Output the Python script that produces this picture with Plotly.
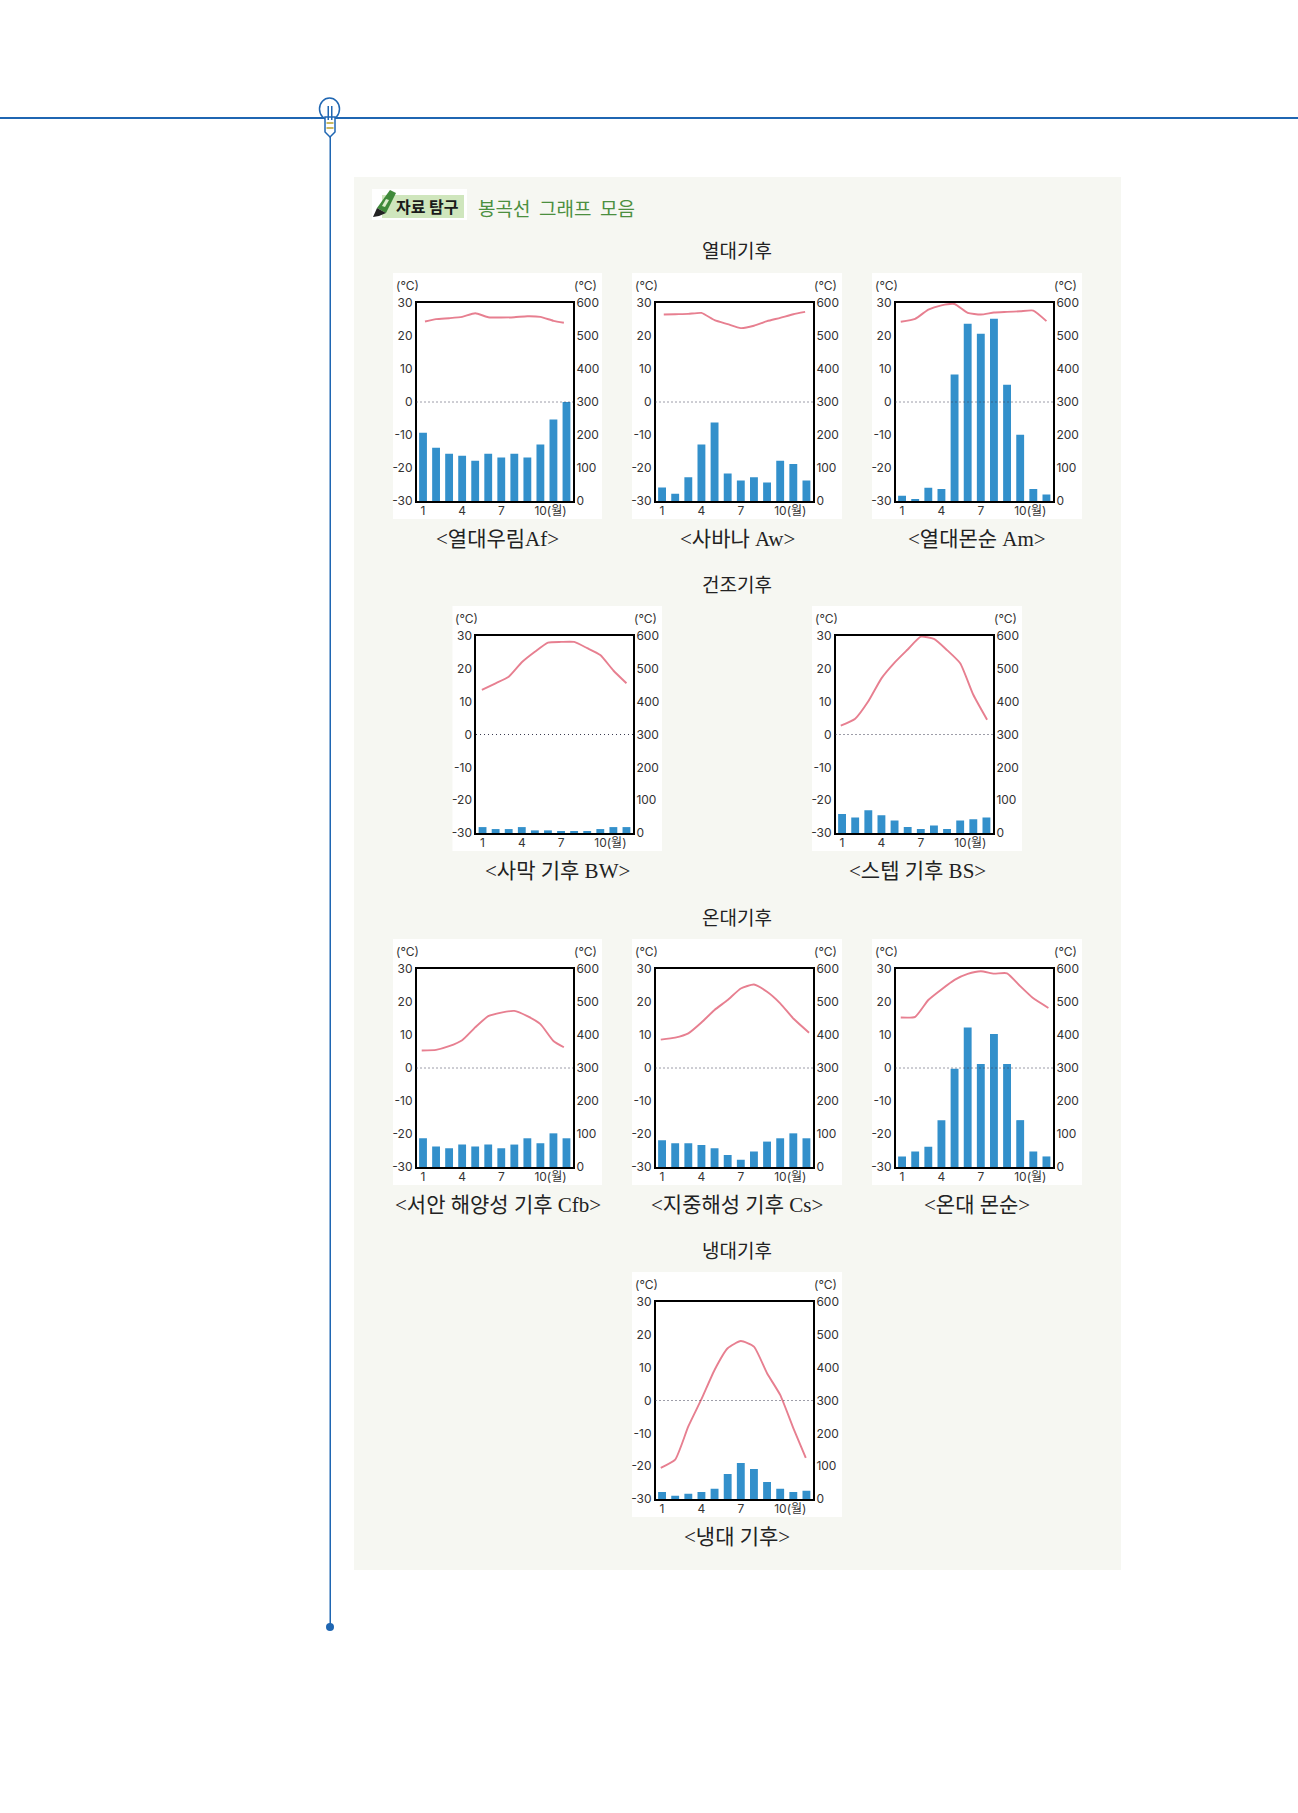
import plotly.graph_objects as go

W, H = 1298, 1813
months = list(range(1, 13))
temp_ticks = [-30, -20, -10, 0, 10, 20, 30]
temp_labels = ["-30", "-20", "-10", "0", "10", "20", "30"]
rain_ticks = [0, 100, 200, 300, 400, 500, 600]
rain_labels = ["0", "100", "200", "300", "400", "500", "600"]
month_ticks = [1, 4, 7, 10]
month_labels = ["1", "4", "7", "\u00a0\u00a0\u00a0\u00a0\u00a0\u00a010(월)"]

af_temp = [24.4, 25.1, 25.4, 25.8, 26.9, 25.7, 25.6, 25.7, 26.0, 25.8, 24.6, 24.0]
af_rain = [207, 161, 143, 137, 122, 143, 132, 143, 132, 171, 247, 300]
aw_temp = [26.5, 26.6, 26.7, 27.0, 24.8, 23.6, 22.4, 23.1, 24.5, 25.5, 26.6, 27.3]
aw_rain = [41, 22, 72, 171, 238, 83, 62, 72, 56, 122, 112, 62]
am_temp = [24.3, 25.2, 28.0, 29.3, 29.7, 27.0, 26.5, 27.1, 27.3, 27.5, 27.7, 24.5]
am_rain = [16, 6, 40, 36, 383, 537, 507, 552, 352, 201, 36, 20]
bw_temp = [13.6, 15.6, 17.6, 22.0, 25.2, 28.0, 28.2, 28.2, 26.3, 24.2, 19.5, 15.6]
bw_rain = [18, 12, 12, 18, 8, 8, 5, 5, 5, 12, 18, 18]
bs_temp = [2.7, 4.8, 10.1, 17.1, 21.9, 25.9, 29.8, 29.1, 25.7, 21.7, 12.1, 4.5]
bs_rain = [58, 47, 69, 54, 38, 18, 12, 23, 12, 38, 42, 47]
cfb_temp = [5.3, 5.5, 6.6, 8.4, 12.3, 15.7, 16.8, 17.3, 15.7, 13.3, 8.2, 6.3]
cfb_rain = [87, 62, 57, 68, 62, 68, 57, 68, 87, 72, 102, 87]
cs_temp = [8.6, 9.2, 10.5, 13.8, 17.6, 20.6, 24.1, 25.3, 23.1, 19.6, 15.0, 10.7]
cs_rain = [81, 72, 72, 67, 57, 36, 22, 47, 77, 87, 102, 87]
cw_temp = [15.3, 15.5, 20.6, 23.8, 26.7, 28.5, 29.3, 28.6, 28.7, 24.8, 21.1, 18.2]
cw_rain = [32, 47, 61, 142, 298, 423, 312, 403, 312, 142, 47, 32]
d_temp = [-20.5, -18.0, -7.9, 0.4, 9.3, 15.9, 18.1, 16.4, 8.3, 1.7, -8.4, -17.5]
d_rain = [21, 10, 16, 21, 31, 76, 110, 91, 52, 31, 21, 25]

# where each temperature curve begins and ends along the month axis
line_start = [1.15, 1.13, 0.9, 0.95, 0.9, 0.9, 0.9, 0.9, 0.9]
line_end = [11.8, 11.9, 12.0, 12.0, 12.05, 11.8, 12.2, 12.15, 11.95]

headings = ["열대기후", "건조기후", "온대기후", "냉대기후"]
captions = ["&lt;열대우림Af&gt;", "&lt;사바나 Aw&gt;", "&lt;열대몬순 Am&gt;", "&lt;사막 기후 BW&gt;", "&lt;스텝 기후 BS&gt;",
            "&lt;서안 해양성 기후 Cfb&gt;", "&lt;지중해성 기후 Cs&gt;", "&lt;온대 몬순&gt;", "&lt;냉대 기후&gt;"]
temps = [af_temp, aw_temp, am_temp, bw_temp, bs_temp, cfb_temp, cs_temp, cw_temp, d_temp]
rains = [af_rain, aw_rain, am_rain, bw_rain, bs_rain, cfb_rain, cs_rain, cw_rain, d_rain]

# frame boxes: left, right, top, bottom in pixels
frames = [(416.5, 573, 303, 501), (655.5, 813, 303, 501), (895.5, 1053, 303, 501),
          (476, 633, 636, 833), (835.5, 993, 636, 833),
          (416.5, 573, 969, 1167), (655.5, 813, 969, 1167), (895.5, 1053, 969, 1167),
          (655.5, 813, 1302, 1499)]
heading_y = [252, 586, 918, 1251]

px = lambda x: x / W
py = lambda y: 1 - y / H
SANS = "Inter, Noto Sans CJK KR"
SERIF = "Liberation Serif, Noto Sans CJK KR"
BLUE = "#1f66b2"
TXT = "#333333"

fig = go.Figure()
shapes, annos = [], []


def rect(x0, y0, x1, y1, fill, line=None, lw=0, kind="rect"):
    shapes.append(dict(type=kind, xref="paper", yref="paper", x0=px(x0), x1=px(x1), y0=py(y0), y1=py(y1),
                       fillcolor=fill, line=dict(color=line or fill, width=lw), layer="below"))


def text(x, y, s, size, color="#222222", family=SERIF, anchor="center"):
    annos.append(dict(xref="paper", yref="paper", x=px(x), y=py(y), text=s, showarrow=False, xanchor=anchor,
                      yanchor="middle", font=dict(size=size, color=color, family=family)))


def poly(pts, fill, line=None, lw=0):
    d = "M " + " L ".join(f"{px(a):.5f},{py(b):.5f}" for a, b in pts) + " Z"
    shapes.append(dict(type="path", xref="paper", yref="paper", path=d, fillcolor=fill,
                       line=dict(color=line or fill, width=lw), layer="below"))


def sid(prefix, n):
    return prefix if n == 1 else f"{prefix}{n}"


# page furniture
rect(354, 177, 1121, 1570, "#f6f7f2")
rect(0, 117, 1298, 119, BLUE)
rect(329.5, 130, 331, 1626, BLUE)
rect(326, 1623, 334, 1631, BLUE, kind="circle")
rect(319.5, 98, 339.5, 120, "#ffffff", BLUE, 1.5, kind="circle")
poly([(325, 117), (335, 117), (335, 132), (330, 137), (325, 132)], "#ffffff", BLUE, 1.5)
rect(326.5, 122, 333.5, 124, "#c9b860")
rect(326.5, 127, 333.5, 129, "#c9b860")
rect(327.5, 106, 329, 120, BLUE)
rect(331, 106, 332.5, 120, BLUE)

# badge
rect(372, 189, 467, 220, "#ffffff")
rect(382, 195, 464, 218, "#cfe6bd")
poly([(390, 190), (396, 193), (386, 213), (377, 208)], "#3f8a3a")
poly([(377, 208), (386, 213), (379, 216), (373, 217)], "#222222")
poly([(386, 199), (389, 200), (385, 207), (382, 206)], "#dbeccb")
text(427, 206, "<b>자료 탐구</b>", 16, "#1a1a1a", "Noto Sans CJK KR")
text(476, 207, "봉곡선\u00a0\u00a0그래프\u00a0\u00a0모음", 19, "#4b8f3f", "Noto Sans CJK KR", "left")

for s, y in zip(headings, heading_y):
    text(737, y, s, 19)

for i, ((l, r, t, b), temp, rain, cap) in enumerate(zip(frames, temps, rains, captions)):
    cx = (l + r) / 2
    xa, ya, yb = sid("x", i + 1), sid("y", 2 * i + 1), sid("y", 2 * i + 2)
    rect(l - 23.5, t - 30, r + 29, b + 18, "#ffffff")
    text(l - 9, t - 18, "(°C)", 12, TXT, SANS)
    text(r + 12, t - 18, "(°C)", 12, TXT, SANS)
    text(cx + 3, b + 38, cap, 21)
    fig.add_trace(go.Bar(x=months, y=rain, width=0.6, marker=dict(color="#3390cb", line=dict(width=0)),
                         xaxis=xa, yaxis=ya, showlegend=False))
    line_x = [line_start[i]] + months[1:-1] + [line_end[i]]
    fig.add_trace(go.Scatter(x=line_x, y=temp, mode="lines",
                             line=dict(color="#e77f90", width=1.9, shape="spline", smoothing=0.5),
                             xaxis=xa, yaxis=yb, showlegend=False, cliponaxis=False))
    fig.layout[sid("xaxis", i + 1)] = dict(domain=[px(l), px(r)], anchor=ya, range=[0.5, 12.5], tickvals=month_ticks,
                                           ticktext=month_labels, ticks="", showgrid=False, zeroline=False, showline=True,
                                           mirror=True, linecolor="#000000", linewidth=2, tickangle=0, ticklabelstandoff=-2,
                                           automargin=False, tickfont=dict(size=12, color=TXT, family=SANS))
    fig.layout[sid("yaxis", 2 * i + 1)] = dict(domain=[py(b), py(t)], anchor=xa, side="right", range=[0, 600],
                                               tickvals=rain_ticks, ticktext=rain_labels, ticks="", showgrid=False,
                                               zeroline=False, showline=True, mirror=True, linecolor="#000000", linewidth=2,
                                               ticklabelstandoff=-1, automargin=False,
                                               tickfont=dict(size=12, color=TXT, family=SANS))
    fig.layout[sid("yaxis", 2 * i + 2)] = dict(domain=[py(b), py(t)], anchor=xa, overlaying=ya, side="left",
                                               range=[-30, 30], tickvals=temp_ticks, ticktext=temp_labels, ticks="",
                                               showgrid=False, zeroline=False, showline=False, ticklabelstandoff=3,
                                               automargin=False, tickfont=dict(size=12, color=TXT, family=SANS))
    shapes.append(dict(type="line", xref=f"{xa} domain", yref=yb, x0=0, x1=1, y0=0, y1=0,
                       line=dict(color="#3a3a50", width=1, dash="1px,3px"), layer="above"))

fig.update_layout(width=W, height=H, autosize=False, margin=dict(l=0, r=0, t=0, b=0), paper_bgcolor="#ffffff",
                  plot_bgcolor="rgba(0,0,0,0)", barmode="overlay", shapes=shapes, annotations=annos, showlegend=False)
fig.write_html("out.html", config={"displayModeBar": False}, post_script="document.body.style.margin='0';")
